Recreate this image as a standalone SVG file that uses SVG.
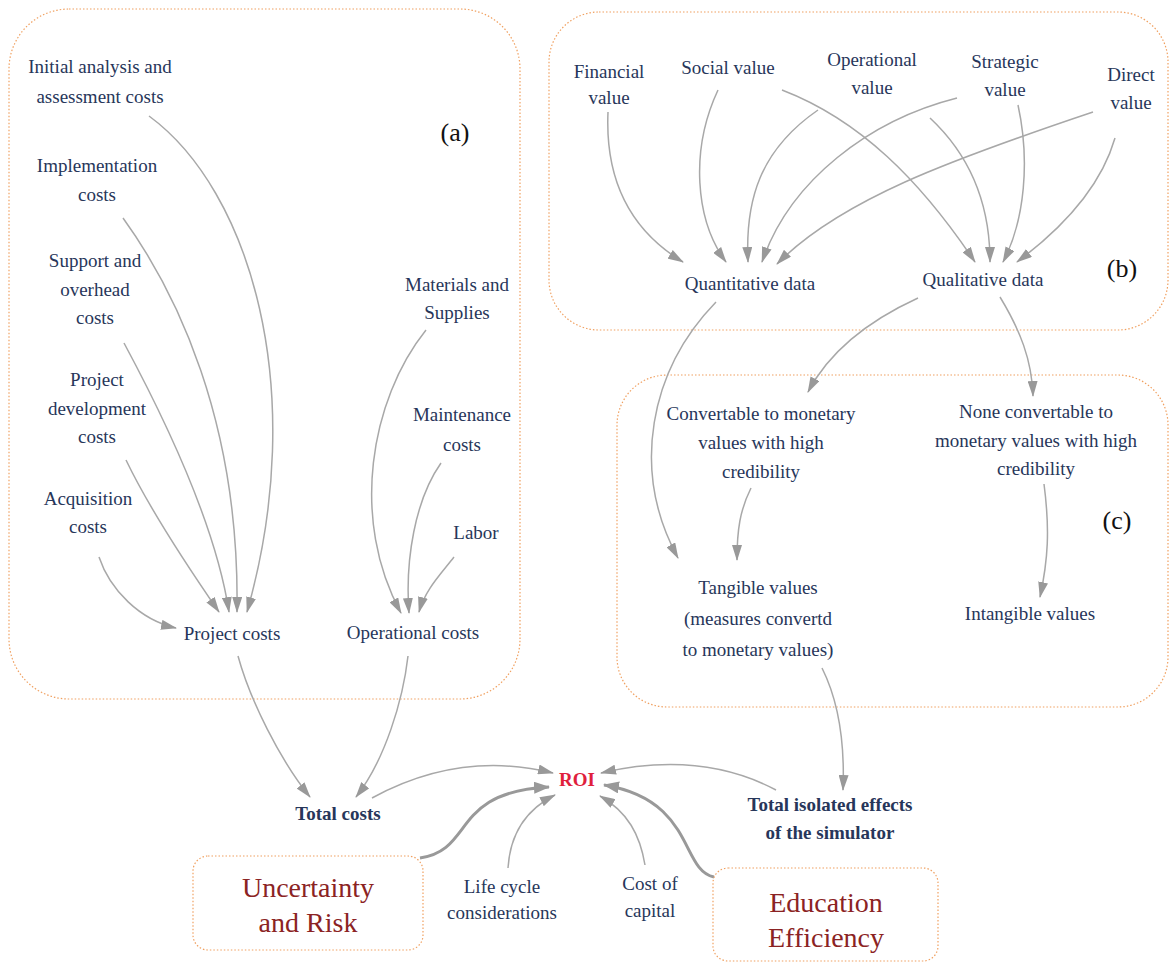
<svg xmlns="http://www.w3.org/2000/svg" width="1171" height="963" viewBox="0 0 1171 963">
<style>
.box{fill:none;stroke:#f0a060;stroke-width:1.2;stroke-dasharray:1.5 2}
.t{font-family:"Liberation Serif",serif;font-size:19px;fill:#27365a;text-anchor:middle}
.b{font-weight:bold}
.lab{font-family:"Liberation Serif",serif;font-size:26px;fill:#111;text-anchor:middle}
.big{font-family:"Liberation Serif",serif;font-size:28px;fill:#8b2323;text-anchor:middle}
.roi{fill:#e0203c}
.c path{fill:none;stroke:#a8a8a8;stroke-width:1.5;marker-end:url(#ah)}
.c path.thick{stroke:#999;stroke-width:3;marker-end:url(#ahb)}
</style>
<defs>
<marker id="ah" viewBox="0 0 16 10" refX="15" refY="5" markerWidth="16" markerHeight="10" markerUnits="userSpaceOnUse" orient="auto">
<path d="M0,0 L16,5 L0,10 Z" fill="#999"/>
</marker>
<marker id="ahb" viewBox="0 0 16 12" refX="15" refY="6" markerWidth="16" markerHeight="12" markerUnits="userSpaceOnUse" orient="auto">
<path d="M0,0 L16,6 L0,12 Z" fill="#999"/>
</marker>
</defs>

<g id="frames">
<rect class="box" x="9" y="9" width="511" height="690" rx="60"/>
<rect class="box" x="549" y="12" width="619" height="318" rx="50"/>
<rect class="box" x="617" y="375" width="551" height="332" rx="50"/>
</g>

<g class="c" id="connectors">
<path d="M149,116 C250,190 310,390 247,612"/>
<path d="M123,218 C175,290 240,420 237,612"/>
<path d="M124,343 C160,410 215,520 229,612"/>
<path d="M126,460 C150,510 190,570 219,612"/>
<path d="M99,557 C110,590 140,620 176,628"/>
<path d="M426,330 C370,400 350,520 401,613"/>
<path d="M441,463 C415,500 405,560 409,613"/>
<path d="M454,557 C440,575 425,590 419,612"/>
<path d="M238,656 C250,700 280,760 310,797"/>
<path d="M408,656 C403,700 385,760 356,797"/>
<path d="M372,798 Q460,750 553,773"/>
<path d="M776,790 Q700,750 601,773"/>
<path d="M822,668 C838,700 845,740 843,790"/>
<path class="thick" d="M420,858 C475,850 450,792 549,787"/>
<path d="M508,868 C510,835 525,810 555,795"/>
<path d="M645,865 C640,835 628,812 600,796"/>
<path class="thick" d="M714,877 C680,870 695,800 604,785"/>
<path d="M608,112 C605,180 630,230 683,262"/>
<path d="M718,90 C690,150 695,220 726,262"/>
<path d="M818,110 C760,150 745,200 748,262"/>
<path d="M957,98 C870,120 790,180 762,262"/>
<path d="M1093,112 C950,160 840,200 777,264"/>
<path d="M782,90 C860,120 920,180 975,262"/>
<path d="M930,118 C975,160 990,210 990,262"/>
<path d="M1018,105 C1030,160 1025,220 1003,262"/>
<path d="M1115,138 C1100,190 1060,230 1017,262"/>
<path d="M716,302 C650,370 630,470 678,558"/>
<path d="M918,298 C870,320 830,350 808,392"/>
<path d="M1000,297 C1020,330 1032,360 1033,396"/>
<path d="M751,488 C740,510 737,530 737,560"/>
<path d="M1044,484 C1050,530 1048,560 1040,597"/>
</g>

<g id="label-a"><text class="lab" x="455" y="141">(a)</text></g>
<g id="label-b"><text class="lab" x="1122" y="277">(b)</text></g>
<g id="label-c"><text class="lab" x="1117" y="529">(c)</text></g>

<g id="initial"><text class="t" x="100" y="73">Initial analysis and</text><text class="t" x="100" y="103">assessment costs</text></g>
<g id="implementation"><text class="t" x="97" y="172">Implementation</text><text class="t" x="97" y="201">costs</text></g>
<g id="support"><text class="t" x="95" y="267">Support and</text><text class="t" x="95" y="296">overhead</text><text class="t" x="95" y="324">costs</text></g>
<g id="projdev"><text class="t" x="97" y="386">Project</text><text class="t" x="97" y="415">development</text><text class="t" x="97" y="443">costs</text></g>
<g id="acquisition"><text class="t" x="88" y="505">Acquisition</text><text class="t" x="88" y="533">costs</text></g>
<g id="projcosts"><text class="t" x="232" y="640">Project costs</text></g>
<g id="materials"><text class="t" x="457" y="291">Materials and</text><text class="t" x="457" y="319">Supplies</text></g>
<g id="maintenance"><text class="t" x="462" y="421">Maintenance</text><text class="t" x="462" y="451">costs</text></g>
<g id="labor"><text class="t" x="476" y="539">Labor</text></g>
<g id="opcosts"><text class="t" x="413" y="639">Operational costs</text></g>

<g id="financial"><text class="t" x="609" y="78">Financial</text><text class="t" x="609" y="104">value</text></g>
<g id="social"><text class="t" x="728" y="74">Social value</text></g>
<g id="operational"><text class="t" x="872" y="66">Operational</text><text class="t" x="872" y="94">value</text></g>
<g id="strategic"><text class="t" x="1005" y="68">Strategic</text><text class="t" x="1005" y="96">value</text></g>
<g id="direct"><text class="t" x="1131" y="81">Direct</text><text class="t" x="1131" y="109">value</text></g>
<g id="quant"><text class="t" x="750" y="290">Quantitative data</text></g>
<g id="qual"><text class="t" x="983" y="286">Qualitative data</text></g>

<g id="convertable"><text class="t" x="761" y="420">Convertable to monetary</text><text class="t" x="761" y="449">values with high</text><text class="t" x="761" y="478">credibility</text></g>
<g id="noneconv"><text class="t" x="1036" y="418">None convertable to</text><text class="t" x="1036" y="447">monetary values with high</text><text class="t" x="1036" y="475">credibility</text></g>
<g id="tangible"><text class="t" x="758" y="594">Tangible values</text><text class="t" x="758" y="625">(measures convertd</text><text class="t" x="758" y="656">to monetary values)</text></g>
<g id="intangible"><text class="t" x="1030" y="620">Intangible values</text></g>

<g id="totalcosts"><text class="t b" x="338" y="820">Total costs</text></g>
<g id="roi"><text class="t b roi" x="577" y="786">ROI</text></g>
<g id="isolated"><text class="t b" x="830" y="811">Total isolated effects</text><text class="t b" x="830" y="839">of the simulator</text></g>
<g id="uncertainty"><rect class="box" x="193" y="856" width="230" height="94" rx="15"/><text class="big" x="308" y="897">Uncertainty</text><text class="big" x="308" y="932">and Risk</text></g>
<g id="lifecycle"><text class="t" x="502" y="893">Life cycle</text><text class="t" x="502" y="919">considerations</text></g>
<g id="costcap"><text class="t" x="650" y="890">Cost of</text><text class="t" x="650" y="917">capital</text></g>
<g id="education"><rect class="box" x="713" y="868" width="225" height="93" rx="15"/><text class="big" x="826" y="912">Education</text><text class="big" x="826" y="947">Efficiency</text></g>
</svg>
